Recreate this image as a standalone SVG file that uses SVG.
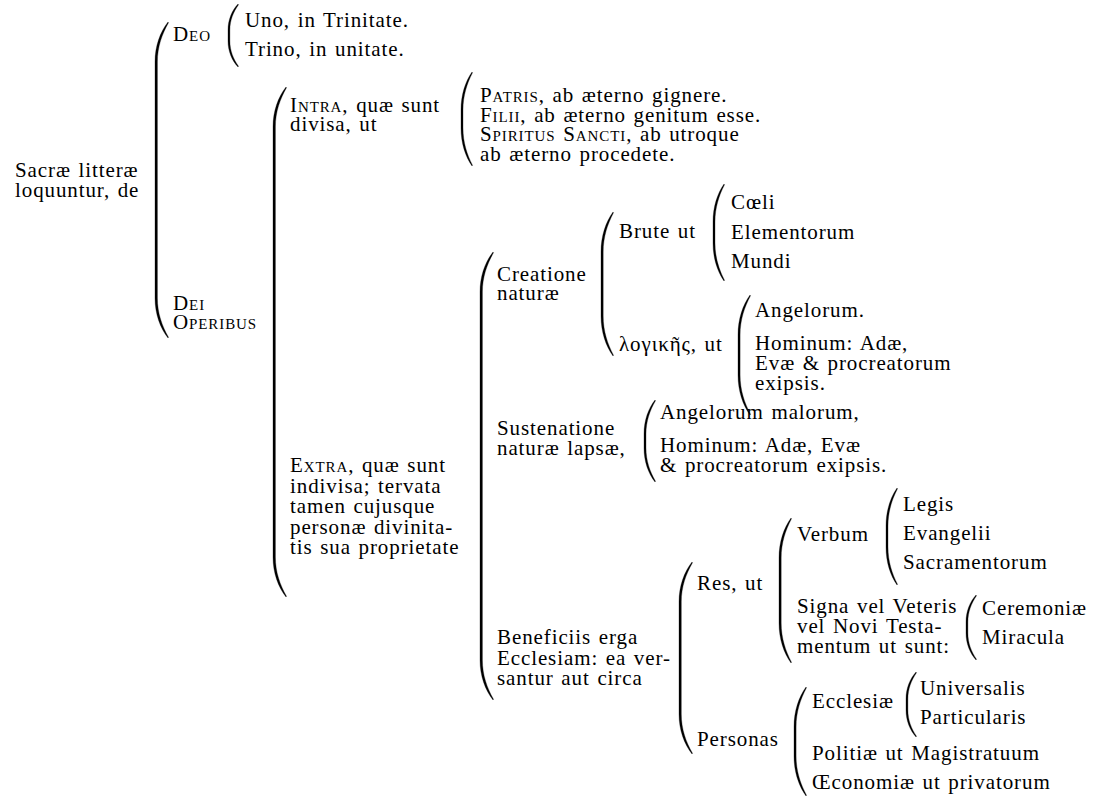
<svg xmlns="http://www.w3.org/2000/svg" width="1100" height="797" viewBox="0 0 1100 797">
<style>
.t{font-family:"Liberation Serif","Times New Roman",serif;font-size:21px;letter-spacing:0.9px;word-spacing:1.5px;fill:#000}
.sc{font-variant:small-caps}
.br{fill:#000;stroke:#000;stroke-width:0.3}
</style>
<rect width="1100" height="797" fill="#fff"/>
<g id="connectors">
<path class="br" d="M168,22 C160.2,32 155,46 155,62 L155,298 C155,314 160.2,328 168,338 L168.5,337.2 C162.1,326 157.4,313.2 157.4,298 L157.4,62 C157.4,46.8 162.1,34 168.5,22.8 Z"/>
<path class="br" d="M238,4 C232,10.5 228,19.6 228,30 L228,41 C228,51.4 232,60.5 238,67 L238.5,66.2 C233.5,59.2 229.9,50.9 229.9,41 L229.9,30 C229.9,20.1 233.5,11.8 238.5,4.8 Z"/>
<path class="br" d="M286,87 C278.2,97 273,111 273,127 L273,557 C273,573 278.2,587 286,597 L286.5,596.2 C280.1,585 275.4,572.2 275.4,557 L275.4,127 C275.4,111.8 280.1,99 286.5,87.8 Z"/>
<path class="br" d="M472,72 C465.4,81.5 461,94.8 461,110 L461,128 C461,143.2 465.4,156.5 472,166 L472.5,165.2 C467,154.6 463,142.4 463,128 L463,110 C463,95.6 467,83.4 472.5,72.8 Z"/>
<path class="br" d="M493,252 C485.2,262 480,276 480,292 L480,660 C480,676 485.2,690 493,700 L493.5,699.2 C487.1,688 482.4,675.2 482.4,660 L482.4,292 C482.4,276.8 487.1,264 493.5,252.8 Z"/>
<path class="br" d="M613,212 C605.8,222 601,236 601,252 L601,316 C601,332 605.8,346 613,356 L613.5,355.2 C607.6,344 603.2,331.2 603.2,316 L603.2,252 C603.2,236.8 607.6,224 613.5,212.8 Z"/>
<path class="br" d="M724,184 C717.4,193.5 713,206.8 713,222 L713,243 C713,258.2 717.4,271.5 724,281 L724.5,280.2 C719,269.6 715,257.4 715,243 L715,222 C715,207.6 719,195.4 724.5,184.8 Z"/>
<path class="br" d="M750,295 C742.8,305 738,319 738,335 L738,375 C738,391 742.8,405 750,415 L750.5,414.2 C744.5,403 740.1,390.2 740.1,375 L740.1,335 C740.1,319.8 744.5,307 750.5,295.8 Z"/>
<path class="br" d="M655,400 C648.4,408.5 644,420.4 644,434 L644,448 C644,461.6 648.4,473.5 655,482 L655.5,481.2 C650,471.8 646,460.9 646,448 L646,434 C646,421.1 650,410.2 655.5,400.8 Z"/>
<path class="br" d="M692,562 C684.2,572 679,586 679,602 L679,714 C679,730 684.2,744 692,754 L692.5,753.2 C686,742 681.3,729.2 681.3,714 L681.3,602 C681.3,586.8 686,574 692.5,562.8 Z"/>
<path class="br" d="M791,518 C783.8,528 779,542 779,558 L779,623 C779,639 783.8,653 791,663 L791.5,662.2 C785.6,651 781.2,638.2 781.2,623 L781.2,558 C781.2,542.8 785.6,530 791.5,518.8 Z"/>
<path class="br" d="M897,488 C890.4,497.5 886,510.8 886,526 L886,547 C886,562.2 890.4,575.5 897,585 L897.5,584.2 C892,573.6 888,561.4 888,547 L888,526 C888,511.6 892,499.4 897.5,488.8 Z"/>
<path class="br" d="M976,595 C970,601.8 966,611.2 966,622 L966,633 C966,643.8 970,653.2 976,660 L976.5,659.2 C971.5,651.9 967.9,643.3 967.9,633 L967.9,622 C967.9,611.7 971.5,603.1 976.5,595.8 Z"/>
<path class="br" d="M806,687 C798.8,697 794,711 794,727 L794,756 C794,772 798.8,786 806,796 L806.5,795.2 C800.5,784 796.1,771.2 796.1,756 L796.1,727 C796.1,711.8 800.5,699 806.5,687.8 Z"/>
<path class="br" d="M916,672 C910,678.8 906,688.2 906,699 L906,710 C906,720.8 910,730.2 916,737 L916.5,736.2 C911.5,728.9 907.9,720.3 907.9,710 L907.9,699 C907.9,688.7 911.5,680.1 916.5,672.8 Z"/>
</g>
<g id="root"><text class="t" x="15" y="177">Sacræ litteræ</text><text class="t" x="15" y="197">loquuntur, de</text></g>
<g id="deo"><text class="t sc" x="173" y="41">Deo</text></g>
<g id="uno"><text class="t" x="245" y="27">Uno, in Trinitate.</text></g>
<g id="trino"><text class="t" x="245" y="56">Trino, in unitate.</text></g>
<g id="dei-operibus"><text class="t sc" x="173" y="310">Dei</text><text class="t sc" x="173" y="329">Operibus</text></g>
<g id="intra"><text class="t" x="290" y="112"><tspan class="sc">Intra</tspan>, quæ sunt</text><text class="t" x="290" y="131">divisa, ut</text></g>
<g id="personae"><text class="t" x="480" y="102"><tspan class="sc">Patris</tspan>, ab æterno gignere.</text><text class="t" x="480" y="122"><tspan class="sc">Filii</tspan>, ab æterno genitum esse.</text><text class="t" x="480" y="141"><tspan class="sc">Spiritus Sancti</tspan>, ab utroque</text><text class="t" x="480" y="161">ab æterno procedete.</text></g>
<g id="extra"><text class="t" x="290" y="472"><tspan class="sc">Extra</tspan>, quæ sunt</text><text class="t" x="290" y="492.5">indivisa; tervata</text><text class="t" x="290" y="513">tamen cujusque</text><text class="t" x="290" y="533.5">personæ divinita-</text><text class="t" x="290" y="554">tis sua proprietate</text></g>
<g id="creatione"><text class="t" x="497" y="281">Creatione</text><text class="t" x="497" y="300">naturæ</text></g>
<g id="brute"><text class="t" x="619" y="238">Brute ut</text></g>
<g id="coeli"><text class="t" x="731" y="209">Cœli</text></g>
<g id="elementorum"><text class="t" x="731" y="239">Elementorum</text></g>
<g id="mundi"><text class="t" x="731" y="268">Mundi</text></g>
<g id="logikes"><text class="t" x="619" y="351">λογικῆς, ut</text></g>
<g id="angelorum"><text class="t" x="755" y="317">Angelorum.</text></g>
<g id="hominum1"><text class="t" x="755" y="350">Hominum: Adæ,</text><text class="t" x="755" y="370">Evæ &amp; procreatorum</text><text class="t" x="755" y="390">exipsis.</text></g>
<g id="sustenatione"><text class="t" x="497" y="435">Sustenatione</text><text class="t" x="497" y="455">naturæ lapsæ,</text></g>
<g id="angelorum-malorum"><text class="t" x="660" y="419">Angelorum malorum,</text></g>
<g id="hominum2"><text class="t" x="660" y="452">Hominum: Adæ, Evæ</text><text class="t" x="660" y="472">&amp; procreatorum exipsis.</text></g>
<g id="beneficiis"><text class="t" x="497" y="644">Beneficiis erga</text><text class="t" x="497" y="665">Ecclesiam: ea ver-</text><text class="t" x="497" y="685">santur aut circa</text></g>
<g id="res"><text class="t" x="697" y="590">Res, ut</text></g>
<g id="personas"><text class="t" x="697" y="746">Personas</text></g>
<g id="verbum"><text class="t" x="797" y="541">Verbum</text></g>
<g id="legis"><text class="t" x="903" y="511">Legis</text></g>
<g id="evangelii"><text class="t" x="903" y="540">Evangelii</text></g>
<g id="sacramentorum"><text class="t" x="903" y="569">Sacramentorum</text></g>
<g id="signa"><text class="t" x="797" y="613">Signa vel Veteris</text><text class="t" x="797" y="633">vel Novi Testa-</text><text class="t" x="797" y="653">mentum ut sunt:</text></g>
<g id="ceremoniae"><text class="t" x="982" y="615">Ceremoniæ</text></g>
<g id="miracula"><text class="t" x="982" y="644">Miracula</text></g>
<g id="ecclesiae"><text class="t" x="812" y="708">Ecclesiæ</text></g>
<g id="universalis"><text class="t" x="920" y="695">Universalis</text></g>
<g id="particularis"><text class="t" x="920" y="724">Particularis</text></g>
<g id="politiae"><text class="t" x="812" y="760">Politiæ ut Magistratuum</text></g>
<g id="oeconomiae"><text class="t" x="812" y="789">Œconomiæ ut privatorum</text></g>
</svg>
